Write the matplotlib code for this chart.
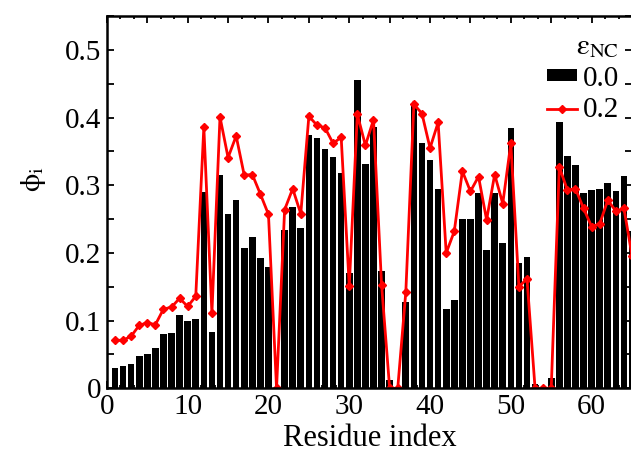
import matplotlib
matplotlib.use("Agg")
import matplotlib.pyplot as plt
from matplotlib.ticker import MultipleLocator, FuncFormatter
import numpy as np

plt.rcParams['font.family'] = ['Liberation Serif', 'DejaVu Serif']
plt.rcParams['mathtext.fontset'] = 'stix'

# residue index
residues = np.arange(1, 66)

# phi_i for eps_NC = 0.0 (bars)
phi_00 = [0.030, 0.033, 0.036, 0.048, 0.050, 0.059, 0.081, 0.082, 0.108, 0.099,
          0.102, 0.290, 0.083, 0.315, 0.258, 0.278, 0.207, 0.223, 0.193, 0.179,
          0.000, 0.234, 0.268, 0.237, 0.375, 0.370, 0.354, 0.342, 0.318, 0.170,
          0.455, 0.332, 0.386, 0.173, 0.012, 0.000, 0.127, 0.419, 0.362, 0.337,
          0.295, 0.117, 0.130, 0.250, 0.250, 0.289, 0.205, 0.289, 0.215, 0.384,
          0.185, 0.194, 0.006, 0.000, 0.015, 0.394, 0.343, 0.330, 0.289, 0.293,
          0.294, 0.303, 0.292, 0.314, 0.232]

# phi_i for eps_NC = 0.2 (red line)
phi_02 = [0.071, 0.071, 0.077, 0.093, 0.097, 0.094, 0.117, 0.120, 0.133, 0.121,
          0.136, 0.386, 0.111, 0.401, 0.341, 0.373, 0.315, 0.316, 0.287, 0.257,
          0.000, 0.264, 0.295, 0.258, 0.402, 0.389, 0.385, 0.362, 0.371, 0.151,
          0.405, 0.359, 0.397, 0.153, 0.000, 0.000, 0.142, 0.420, 0.406, 0.355,
          0.393, 0.200, 0.232, 0.321, 0.291, 0.313, 0.249, 0.316, 0.273, 0.362,
          0.150, 0.162, 0.000, 0.000, 0.000, 0.327, 0.293, 0.295, 0.266, 0.239,
          0.243, 0.278, 0.262, 0.266, 0.196]

fig = plt.figure(figsize=(6.31, 4.53), dpi=100)
ax = fig.add_axes([0.1694, 0.1428, 0.8322, 0.8215])

b = ax.bar(residues, phi_00, width=0.82, color='black', linewidth=0, label='0.0')
l, = ax.plot(residues, phi_02, color='#ff0000', lw=2.0, marker='D', ms=4.5,
             solid_joinstyle='miter', label='0.2')

ax.set_xlim(0, 65)
ax.set_ylim(0, 0.55)

ax.xaxis.set_major_locator(MultipleLocator(5))
ax.xaxis.set_minor_locator(MultipleLocator(5 / 3))
ax.xaxis.set_major_formatter(FuncFormatter(lambda v, p: '%d' % v if round(v) % 10 == 0 else ''))
ax.yaxis.set_major_locator(MultipleLocator(0.1))
ax.yaxis.set_minor_locator(MultipleLocator(0.05))
ax.yaxis.set_major_formatter(FuncFormatter(lambda v, p: '%g' % round(v, 2)))

ax.tick_params(which='both', direction='in', top=True, right=True, width=1.3, labelsize=21)
ax.tick_params(which='major', length=5, pad=4)
ax.tick_params(axis='x', which='minor', length=2.5)
ax.tick_params(axis='y', which='minor', length=5)
for s in ax.spines.values():
    s.set_linewidth(1.8)

ax.set_xlabel('Residue index', fontsize=22, labelpad=3)
ax.set_ylabel(r'$\mathrm{\phi}_{\mathrm{i}}$', fontsize=21, rotation=90)
ax.yaxis.set_label_coords(-0.112, 0.563)

leg = ax.legend([b, l], ['0.0', '0.2'], title=r'$\mathrm{\varepsilon}_{\mathrm{NC}}$',
                loc='upper right', bbox_to_anchor=(1.008, 1.0), frameon=False,
                fontsize=21, title_fontsize=21, handlelength=1.0, handleheight=0.3,
                handletextpad=0.2, labelspacing=0.2, borderpad=0.1)
leg._legend_box.align = 'right'

fig.savefig('out.png', dpi=100)
